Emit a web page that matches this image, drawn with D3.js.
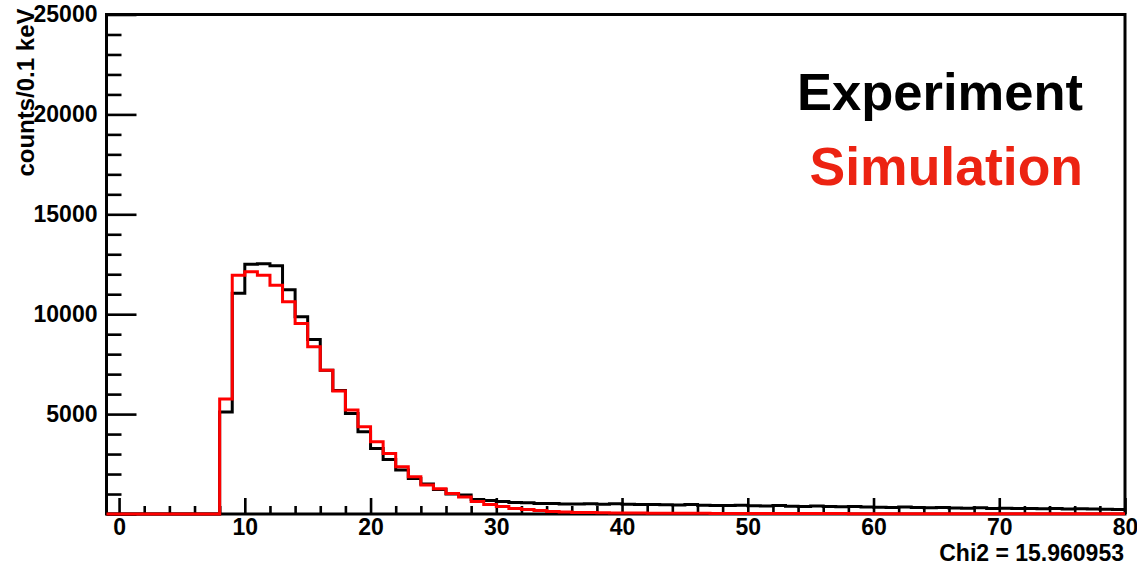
<!DOCTYPE html>
<html>
<head>
<meta charset="utf-8">
<script src="https://cdn.jsdelivr.net/npm/d3@7"></script>
<style>
  html, body { margin: 0; padding: 0; background: #fff; }
  svg { display: block; }
  text { font-family: "Liberation Sans", Arial, Helvetica, sans-serif; font-weight: bold; }
</style>
</head>
<body>
<svg id="chart" width="1137" height="570"></svg>
<script>
// Histogram range: 81 bins of width 1 from -1 to 80
const xRange = [-1, 80];
const yRange = [0, 25000];

// Bin contents, one per bin, starting at bin [-1, 0)
const experimentCounts = [
  0, 0, 0, 0, 0, 0, 0, 0, 0,
  5100, 11050, 12500, 12530, 12420, 11230, 9870, 8730, 7200, 6180,
  5030, 4120, 3280, 2730, 2200, 1780, 1500, 1230, 1000, 950,
  730, 670, 620, 580, 560, 530, 530, 500, 500, 510,
  490, 510, 490, 480, 470,
  460, 450, 470, 440, 430, 420, 440, 410, 400, 420,
  390, 380, 400, 370, 360, 380, 350, 340, 330, 350,
  320, 310, 320, 300, 290, 310, 280, 290, 270, 280,
  260, 270, 250, 260, 250, 240, 230
];
const simulationCounts = [
  0, 0, 0, 0, 0, 0, 0, 0, 0,
  5750, 11950, 12120, 11950, 11450, 10620, 9530, 8370, 7200, 6150,
  5200, 4370, 3620, 3030, 2370, 1870, 1450, 1270, 1020, 850,
  620, 480, 370, 280, 230, 170, 130, 100, 80, 70,
  60, 55, 50, 45, 40,
  38, 36, 34, 32, 31, 29, 28, 27, 25, 24,
  23, 22, 21, 20, 19, 18, 18, 17, 16, 15,
  15, 14, 13, 13, 12, 12, 11, 11, 10, 10,
  9, 9, 9, 8, 8, 8, 7
];

const xMajorTicks = [0, 10, 20, 30, 40, 50, 60, 70, 80];
const yMajorTicks = [0, 5000, 10000, 15000, 20000, 25000];
const yTitle = "counts/0.1 keV";
const legendLabels = ["Experiment", "Simulation"];
const chi2Label = "Chi2 = 15.960953";

const svg = d3.select("#chart");
const frame = { left: 106.5, top: 14.5, right: 1125, bottom: 514 };

const x = d3.scaleLinear().domain(xRange).range([frame.left, frame.right]);
const y = d3.scaleLinear().domain(yRange).range([frame.bottom, frame.top]);

const xMinorTicks = d3.range(0, 81, 2).filter(v => v % 10 !== 0);
const yMinorTicks = d3.range(0, 25001, 1000).filter(v => v % 5000 !== 0);

function styleAxis(g, width) {
  g.select(".domain").remove();
  g.selectAll(".tick line").attr("stroke", "#000").attr("stroke-width", width);
  g.selectAll(".tick text").attr("fill", "#000").style("font-size", "23px");
}

// Y axis: ticks pointing into the frame
svg.append("g")
  .attr("transform", `translate(${frame.left},0)`)
  .call(d3.axisLeft(y).tickValues(yMinorTicks).tickSize(-15).tickFormat(""))
  .call(g => styleAxis(g, 2.6));
svg.append("g")
  .attr("transform", `translate(${frame.left},0)`)
  .call(d3.axisLeft(y).tickValues(yMajorTicks).tickSize(-30).tickPadding(9)
    .tickFormat(d => d === 0 ? "" : String(d)))
  .call(g => styleAxis(g, 2.6));

// X axis
svg.append("g")
  .attr("transform", `translate(0,${frame.bottom})`)
  .call(d3.axisBottom(x).tickValues(xMinorTicks).tickSize(-8).tickFormat(""))
  .call(g => styleAxis(g, 2.6));
svg.append("g")
  .attr("transform", `translate(0,${frame.bottom})`)
  .call(d3.axisBottom(x).tickValues(xMajorTicks).tickSize(-16).tickPadding(5)
    .tickFormat(d => String(d)))
  .call(g => styleAxis(g, 2.6));

// Frame box
svg.append("rect")
  .attr("x", frame.left).attr("y", frame.top)
  .attr("width", frame.right - frame.left)
  .attr("height", frame.bottom - frame.top)
  .attr("fill", "none").attr("stroke", "#000").attr("stroke-width", 3);

// Step outline of a histogram
function stepPoints(counts) {
  const pts = [];
  counts.forEach((c, i) => {
    const lo = xRange[0] + i, hi = lo + 1;
    pts.push([lo, c], [hi, c]);
  });
  return pts;
}
const stepLine = d3.line().x(d => x(d[0])).y(d => y(d[1]));

svg.append("path")
  .attr("d", stepLine(stepPoints(experimentCounts)))
  .attr("fill", "none").attr("stroke", "#000").attr("stroke-width", 3)
  .attr("stroke-linejoin", "miter");
svg.append("path")
  .attr("d", stepLine(stepPoints(simulationCounts)))
  .attr("fill", "none").attr("stroke", "#ff0000").attr("stroke-width", 3)
  .attr("stroke-linejoin", "miter");

// Y axis title, right-aligned with the top of the axis
svg.append("text")
  .attr("transform", `translate(34,${frame.top - 6}) rotate(-90)`)
  .attr("text-anchor", "end")
  .style("font-size", "24px")
  .text(yTitle);

// Legend text
svg.append("text")
  .attr("x", 1083).attr("y", 110)
  .attr("text-anchor", "end")
  .style("font-size", "52.5px")
  .attr("fill", "#000")
  .text(legendLabels[0]);
svg.append("text")
  .attr("x", 1083).attr("y", 185)
  .attr("text-anchor", "end")
  .style("font-size", "53.5px")
  .attr("fill", "#ec2312")
  .text(legendLabels[1]);

// Fit statistic under the x axis
svg.append("text")
  .attr("x", 1124).attr("y", 561)
  .attr("text-anchor", "end")
  .style("font-size", "23px")
  .text(chi2Label);
</script>
</body>
</html>
